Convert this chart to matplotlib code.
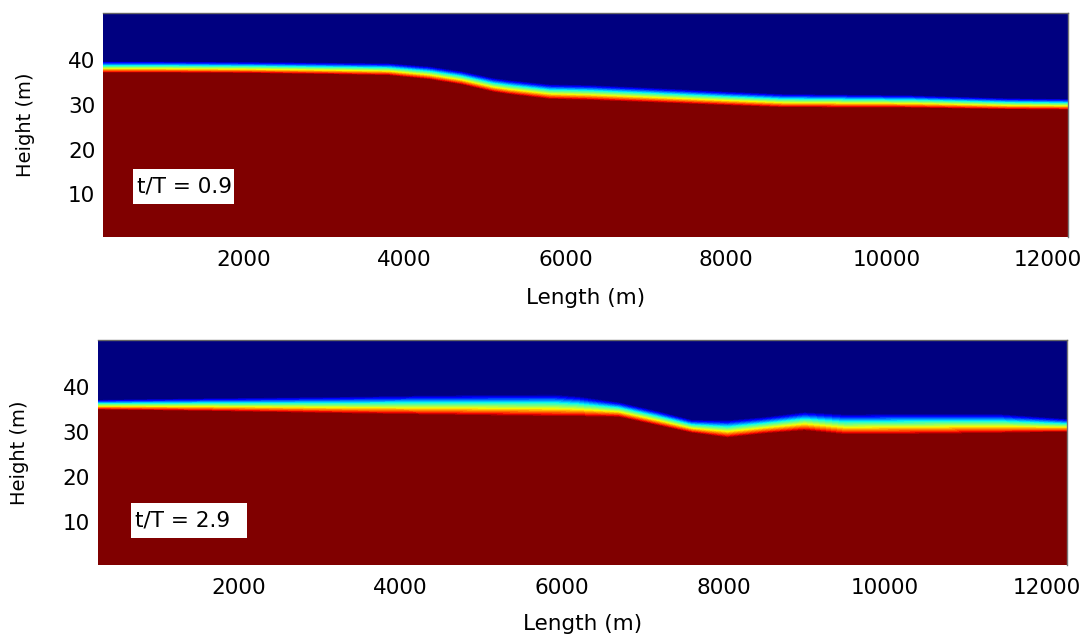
import numpy as np
import matplotlib
matplotlib.use("Agg")
import matplotlib.pyplot as plt
from matplotlib.patches import Rectangle

# ---- data ----
# interface (centre of the transition band) along the channel, t/T = 0.9
x_top = [250, 1000, 2000, 3000, 3800, 4300, 4700, 5100, 5300, 5800, 6300, 7000, 8000, 8700, 10300, 11500, 12250]
h_top = [38.3, 38.3, 38.2, 38.0, 37.8, 37.0, 35.9, 34.3, 33.8, 32.8, 32.6, 32.1, 31.3, 30.8, 30.6, 30.1, 30.0]
w_top = [2.6, 2.6, 2.6, 2.7, 2.8, 3.0, 3.1, 3.2, 3.3, 3.4, 3.5, 3.4, 3.2, 3.1, 2.9, 2.6, 2.5]

# t/T = 2.9
x_bot = [250, 1500, 3250, 4500, 5900, 6200, 6700, 7200, 7600, 8050, 8500, 9000, 9500, 10300, 11400, 12250]
h_bot = [36.0, 36.0, 35.9, 35.9, 35.8, 35.6, 34.9, 32.9, 31.2, 30.6, 31.4, 32.3, 31.6, 31.7, 31.8, 31.4]
w_bot = [2.3, 2.9, 3.8, 4.5, 5.0, 4.6, 3.4, 3.3, 3.0, 4.0, 3.8, 4.2, 4.6, 4.7, 4.4, 3.0]

labels = ["t/T = 0.9", "t/T = 2.9"]
x_ticks = [2000, 4000, 6000, 8000, 10000, 12000]
y_ticks = [10, 20, 30, 40]
x_range = (250, 12250)
y_range = (0.5, 50.5)

FONT = "DejaVu Sans"
plt.rcParams["font.family"] = [FONT]

fig = plt.figure(figsize=(10.8, 6.37), dpi=100)
ax1 = fig.add_axes([103 / 1080, 400 / 637, 965 / 1080, 224 / 637])
ax2 = fig.add_axes([97.5 / 1080, 72 / 637, 969.5 / 1080, 225 / 637])

# fraction profile across the band (1 = lower fluid, 0 = upper fluid)
offsets = np.array([-0.5, -0.5, -0.375, -0.25, -0.125, 0.0, 0.125, 0.25, 0.375, 0.5, 0.5])
fracs = np.array([1.0, 1.0, 0.875, 0.75, 0.625, 0.5, 0.375, 0.25, 0.125, 0.0, 0.0])


def field(ax, xs, hs, ws):
    xs = np.asarray(xs, float)
    hs = np.asarray(hs, float)
    ws = np.asarray(ws, float)
    X = np.tile(xs, (len(offsets), 1))
    Y = hs[None, :] + offsets[:, None] * ws[None, :]
    Y[0, :] = y_range[0]
    Y[-1, :] = y_range[1]
    Z = np.tile(fracs[:, None], (1, len(xs)))
    ax.contourf(X, Y, Z, levels=np.linspace(0, 1, 41), cmap="jet",
                vmin=0.0, vmax=0.9875, antialiased=False, extend="both")


for ax, xs, hs, ws in [(ax1, x_top, h_top, w_top), (ax2, x_bot, h_bot, w_bot)]:
    field(ax, xs, hs, ws)
    ax.set_xlim(*x_range)
    ax.set_ylim(*y_range)
    ax.set_xticks(x_ticks)
    ax.set_yticks(y_ticks)
    ax.tick_params(axis="both", length=0, labelsize=15.5)
    ax.tick_params(axis="x", pad=9.5)
    ax.tick_params(axis="y", pad=5.5)
    for s in ["left", "bottom"]:
        ax.spines[s].set_visible(False)
    ax.spines["top"].set_color("#666666")
    ax.spines["right"].set_color("#777777")
    ax.spines["top"].set_linewidth(1.0)
    ax.spines["right"].set_linewidth(1.0)
    ax.set_xlabel("Length (m)", fontsize=15.5, va="center")
    ax.set_ylabel("Height (m)", fontsize=14, va="center")

ax1.xaxis.set_label_coords(0.5, -0.272)
ax2.xaxis.set_label_coords(0.5, -0.262)
ax1.yaxis.set_label_coords(-0.0808, 0.5)
ax2.yaxis.set_label_coords(-0.080, 0.5)

# label boxes
ax1.add_patch(Rectangle((617, 7.87), 1884 - 617, 15.68 - 7.87, facecolor="white",
                        edgecolor="none", zorder=5))
ax1.text(667, 11.8, labels[0], ha="left", va="center", fontsize=15.5, zorder=6)
ax2.add_patch(Rectangle((663, 6.57), 2095 - 663, 14.3 - 6.57, facecolor="white",
                        edgecolor="none", zorder=5))
ax2.text(712, 10.5, labels[1], ha="left", va="center", fontsize=15.5, zorder=6)

fig.savefig("out.png", dpi=100)
